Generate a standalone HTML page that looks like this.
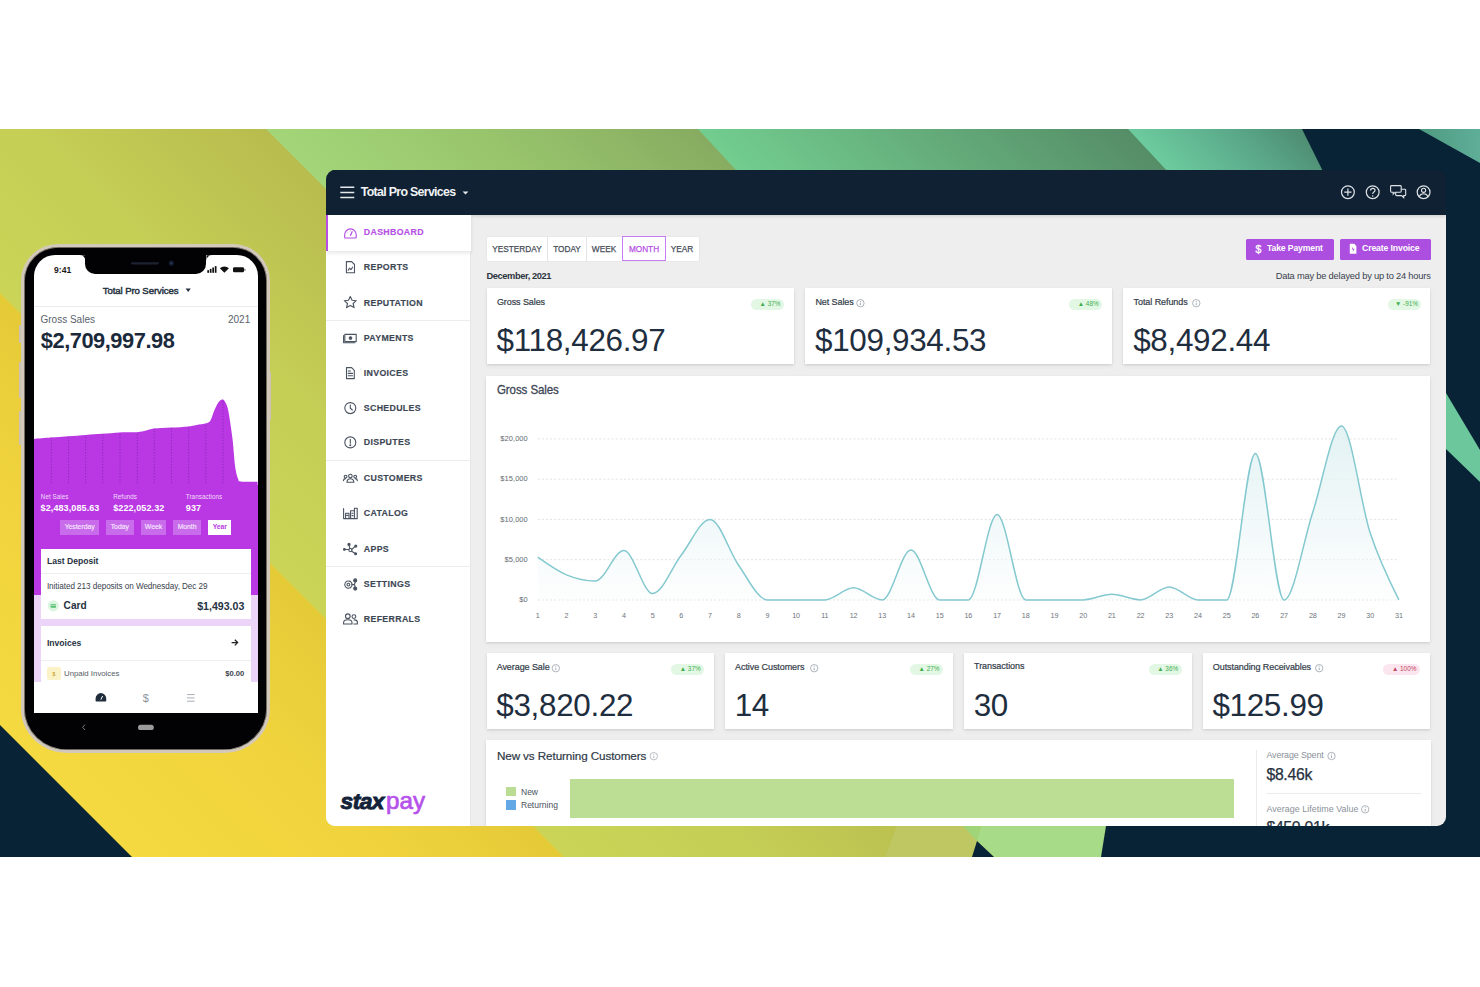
<!DOCTYPE html>
<html><head><meta charset="utf-8"><title>Stax Pay dashboard</title>
<style>
*{margin:0;padding:0;box-sizing:border-box}
html,body{width:1480px;height:987px;overflow:hidden;background:#fff}
body{position:relative;font-family:"Liberation Sans", Arial, sans-serif;-webkit-font-smoothing:antialiased}
.abs,.b,.t{position:absolute}
.t{white-space:nowrap}
svg{overflow:visible}
#dash{position:absolute;left:0;top:0;width:1480px;height:987px;clip-path:inset(169.5px 34px 161px 326px round 10px 10px 9px 9px);
box-shadow:none}
#phone{position:absolute;left:0;top:0;width:1480px;height:987px}
</style></head>
<body>
<svg class="abs" style="left:0;top:0" width="1480" height="987" viewBox="0 0 1480 987">
<defs>
<linearGradient id="gOl" x1="0" y1="294" x2="215.5" y2="78.5" gradientUnits="userSpaceOnUse">
<stop offset="0" stop-color="#cad557"/><stop offset="0.45" stop-color="#c5ce55"/><stop offset="1" stop-color="#b8bc4e"/></linearGradient>
<linearGradient id="gYe" x1="0" y1="294" x2="-215.5" y2="509.5" gradientUnits="userSpaceOnUse">
<stop offset="0" stop-color="#e5ca38"/><stop offset="0.45" stop-color="#f1d43d"/><stop offset="1" stop-color="#f5d940"/></linearGradient>
<linearGradient id="gLg" x1="68.5" y1="-68.5" x2="284.5" y2="-284.5" gradientUnits="userSpaceOnUse">
<stop offset="0" stop-color="#a3d678"/><stop offset="0.5" stop-color="#98c46c"/><stop offset="1" stop-color="#87ac61"/></linearGradient>
<linearGradient id="gTg" x1="284.5" y1="-284.5" x2="499.5" y2="-499.5" gradientUnits="userSpaceOnUse">
<stop offset="0" stop-color="#72cd8f"/><stop offset="0.5" stop-color="#65ad7b"/><stop offset="1" stop-color="#558d67"/></linearGradient>
<linearGradient id="gTl" x1="499.5" y1="-499.5" x2="586.5" y2="-586.5" gradientUnits="userSpaceOnUse">
<stop offset="0" stop-color="#6ccb9e"/><stop offset="0.6" stop-color="#5aa889"/><stop offset="1" stop-color="#4e8c72"/></linearGradient>
<linearGradient id="gTr" x1="1419" y1="0" x2="1480" y2="0" gradientUnits="userSpaceOnUse">
<stop offset="0" stop-color="#4e9a80"/><stop offset="1" stop-color="#5fae98"/></linearGradient>
</defs>
<rect x="0" y="129" width="1480" height="728" fill="#082236"/>
<polygon points="0,129 292,129 1020,857 0,857" fill="url(#gOl)"/>
<polygon points="907,800 937,800 994,857 885,857" fill="#bfc763"/>
<polygon points="0,293 564,857 0,857" fill="url(#gYe)"/>
<polygon points="0,725 132,857 0,857" fill="#082236"/>
<polygon points="266,129 720,129 804,220 357,220" fill="url(#gLg)"/>
<polygon points="698,129 1150,129 1235,220 782,220" fill="url(#gTg)"/>
<polygon points="1128,129 1302,129 1347,220 1213,220" fill="url(#gTl)"/>
<polygon points="1419,129 1480,129 1480,163" fill="url(#gTr)"/>
<polygon points="1440,383 1446,393 1480,450 1480,482 1446,449 1440,443" fill="#6cc79c"/>
<polygon points="963,826 981,826 977,841" fill="#a0d478"/>
<polygon points="981,826 1106,826 1101,857 994,857 977,841" fill="#a8db87"/>
<polygon points="977,841 994,857 972,857" fill="#082236"/>
</svg>
<div id="phone">
<div class="b" style="left:20.80px;top:243.80px;width:249.10px;height:509.00px;background:#020204;border:3.2px solid #d3c9bb;box-sizing:border-box;border-radius:37px 37px 46px 46px/37px 37px 44px 44px;box-shadow:inset 0 0 0 0.8px #8f877c;"></div>
<div class="b" style="left:19.40px;top:325.00px;width:1.80px;height:18.00px;background:#cbc2b3;border-radius:1px 0 0 1px;"></div>
<div class="b" style="left:19.40px;top:362.00px;width:1.80px;height:35.60px;background:#cbc2b3;border-radius:1px 0 0 1px;"></div>
<div class="b" style="left:19.40px;top:410.80px;width:1.80px;height:34.20px;background:#cbc2b3;border-radius:1px 0 0 1px;"></div>
<div class="b" style="left:269.60px;top:372.00px;width:1.60px;height:48.00px;background:#cbc2b3;border-radius:0 1px 1px 0;"></div>
<div class="abs" style="left:33.6px;top:255.3px;width:224px;height:457.3px;background:#fff;border-radius:21px 21px 0 0;overflow:hidden">
<div class="abs" style="left:-33.6px;top:-255.3px;width:1480px;height:987px">
<svg class="abs" style="left:0;top:0" width="1480" height="987"><defs><clipPath id="pcl"><path d="M33.6,600 L33.60,439.00C36.50,438.77 45.27,438.07 51.00,437.60C56.73,437.13 62.17,436.65 68.00,436.20C73.83,435.75 80.33,435.30 86.00,434.90C91.67,434.50 96.33,434.22 102.00,433.80C107.67,433.38 114.17,432.67 120.00,432.40C125.83,432.13 132.67,432.50 137.00,432.20C141.33,431.90 143.17,431.20 146.00,430.60C148.83,430.00 149.83,429.10 154.00,428.60C158.17,428.10 165.23,427.97 171.00,427.60C176.77,427.23 183.93,426.90 188.60,426.40C193.27,425.90 195.70,425.27 199.00,424.60C202.30,423.93 206.33,423.43 208.40,422.40C210.47,421.37 210.40,420.42 211.40,418.40C212.40,416.38 213.22,413.00 214.40,410.30C215.58,407.60 217.07,403.98 218.50,402.20C219.93,400.42 221.57,398.93 223.00,399.60C224.43,400.27 226.00,403.07 227.10,406.20C228.20,409.33 228.67,412.67 229.60,418.40C230.53,424.13 231.77,432.50 232.70,440.60C233.63,448.70 234.28,460.58 235.20,467.00C236.12,473.42 237.27,476.67 238.20,479.10C239.13,481.53 237.57,481.15 240.80,481.60C244.03,482.05 254.80,481.77 257.60,481.80 L257.6,600 Z"/></clipPath></defs><path d="M33.6,600 L33.60,439.00C36.50,438.77 45.27,438.07 51.00,437.60C56.73,437.13 62.17,436.65 68.00,436.20C73.83,435.75 80.33,435.30 86.00,434.90C91.67,434.50 96.33,434.22 102.00,433.80C107.67,433.38 114.17,432.67 120.00,432.40C125.83,432.13 132.67,432.50 137.00,432.20C141.33,431.90 143.17,431.20 146.00,430.60C148.83,430.00 149.83,429.10 154.00,428.60C158.17,428.10 165.23,427.97 171.00,427.60C176.77,427.23 183.93,426.90 188.60,426.40C193.27,425.90 195.70,425.27 199.00,424.60C202.30,423.93 206.33,423.43 208.40,422.40C210.47,421.37 210.40,420.42 211.40,418.40C212.40,416.38 213.22,413.00 214.40,410.30C215.58,407.60 217.07,403.98 218.50,402.20C219.93,400.42 221.57,398.93 223.00,399.60C224.43,400.27 226.00,403.07 227.10,406.20C228.20,409.33 228.67,412.67 229.60,418.40C230.53,424.13 231.77,432.50 232.70,440.60C233.63,448.70 234.28,460.58 235.20,467.00C236.12,473.42 237.27,476.67 238.20,479.10C239.13,481.53 237.57,481.15 240.80,481.60C244.03,482.05 254.80,481.77 257.60,481.80 L257.6,600 Z" fill="#b938e3"/><g clip-path="url(#pcl)">
<line x1="51.3" y1="395" x2="51.3" y2="484.7" stroke="#8f28b8" stroke-width="0.9" stroke-dasharray="1.4 1.6"/>
<line x1="68.5" y1="395" x2="68.5" y2="484.7" stroke="#8f28b8" stroke-width="0.9" stroke-dasharray="1.4 1.6"/>
<line x1="85.6" y1="395" x2="85.6" y2="484.7" stroke="#8f28b8" stroke-width="0.9" stroke-dasharray="1.4 1.6"/>
<line x1="102.8" y1="395" x2="102.8" y2="484.7" stroke="#8f28b8" stroke-width="0.9" stroke-dasharray="1.4 1.6"/>
<line x1="120.0" y1="395" x2="120.0" y2="484.7" stroke="#8f28b8" stroke-width="0.9" stroke-dasharray="1.4 1.6"/>
<line x1="137.2" y1="395" x2="137.2" y2="484.7" stroke="#8f28b8" stroke-width="0.9" stroke-dasharray="1.4 1.6"/>
<line x1="154.3" y1="395" x2="154.3" y2="484.7" stroke="#8f28b8" stroke-width="0.9" stroke-dasharray="1.4 1.6"/>
<line x1="171.5" y1="395" x2="171.5" y2="484.7" stroke="#8f28b8" stroke-width="0.9" stroke-dasharray="1.4 1.6"/>
<line x1="188.7" y1="395" x2="188.7" y2="484.7" stroke="#8f28b8" stroke-width="0.9" stroke-dasharray="1.4 1.6"/>
<line x1="205.8" y1="395" x2="205.8" y2="484.7" stroke="#8f28b8" stroke-width="0.9" stroke-dasharray="1.4 1.6"/>
<line x1="223.0" y1="395" x2="223.0" y2="484.7" stroke="#8f28b8" stroke-width="0.9" stroke-dasharray="1.4 1.6"/>
</g></svg>
<div class="b" style="left:33.60px;top:484.70px;width:224.00px;height:109.90px;background:#b938e3;"></div>
<div class="b" style="left:33.60px;top:594.60px;width:224.00px;height:87.20px;background:#ecd4f8;"></div>
<div class="t" style="top:265.52px;font-size:8.6px;line-height:8.6px;color:#1a1a1a;font-weight:700;left:54.00px;">9:41</div>
<svg class="abs" style="left:0;top:0" width="1480" height="987"><rect x="207.3" y="270.2" width="1.7" height="2.6" fill="#111"/><rect x="209.8" y="268.9" width="1.7" height="3.9" fill="#111"/><rect x="212.3" y="267.5" width="1.7" height="5.3" fill="#111"/><rect x="214.8" y="266.1" width="1.7" height="6.7" fill="#111"/><path d="M224.4,272.8 L219.9,268.3 A6.4,6.4 0 0 1 228.9,268.3 Z" fill="#111"/><rect x="233" y="267.3" width="11" height="5" rx="1.3" fill="#111"/><rect x="244.4" y="268.8" width="1" height="2" fill="#555"/></svg>
<div class="b" style="left:85.30px;top:254.00px;width:121.20px;height:19.80px;background:#020204;border-radius:0 0 10px 10px;"></div>
<svg class="abs" style="left:0;top:0" width="1480" height="987"><path d="M79.5,255.3 Q85.3,255.3 85.3,261 L85.3,255.3 Z" fill="#020204"/><path d="M212.3,255.3 Q206.5,255.3 206.5,261 L206.5,255.3 Z" fill="#020204"/><rect x="131" y="262.2" width="28" height="2.2" rx="1.1" fill="#1c2230"/><circle cx="171.3" cy="263.2" r="2.6" fill="#121a2c"/><circle cx="171.3" cy="263.2" r="1.1" fill="#26365a"/></svg>
<div class="t" style="top:285.57px;font-size:9.6px;line-height:9.6px;color:#26323f;font-weight:400;letter-spacing:-0.1px;-webkit-text-stroke:0.45px #26323f;left:140.60px;transform:translateX(-50%);">Total Pro Services</div>
<svg class="abs" style="left:0;top:0" width="1480" height="987"><path d="M185.6,288.6 L190.8,288.6 L188.2,292 Z" fill="#26323f"/></svg>
<div class="b" style="left:33.60px;top:305.80px;width:224.00px;height:1.00px;background:#e9ebee;"></div>
<div class="t" style="top:315.24px;font-size:10.0px;line-height:10.0px;color:#59616b;font-weight:400;left:40.50px;">Gross Sales</div>
<div class="t" style="top:315.24px;font-size:10.0px;line-height:10.0px;color:#59616b;font-weight:400;right:1229.80px;">2021</div>
<div class="t" style="top:329.85px;font-size:21.8px;line-height:21.8px;color:#1b2a3a;font-weight:700;letter-spacing:-0.45px;left:40.80px;">$2,709,997.98</div>
<div class="t" style="top:494.27px;font-size:6.3px;line-height:6.3px;color:#f1dcfb;font-weight:400;letter-spacing:0.05px;left:40.80px;">Net Sales</div>
<div class="t" style="top:494.27px;font-size:6.3px;line-height:6.3px;color:#f1dcfb;font-weight:400;letter-spacing:0.05px;left:113.20px;">Refunds</div>
<div class="t" style="top:494.27px;font-size:6.3px;line-height:6.3px;color:#f1dcfb;font-weight:400;letter-spacing:0.05px;left:185.80px;">Transactions</div>
<div class="t" style="top:503.98px;font-size:9.0px;line-height:9.0px;color:#fff;font-weight:700;letter-spacing:0.1px;left:40.60px;">$2,483,085.63</div>
<div class="t" style="top:503.98px;font-size:9.0px;line-height:9.0px;color:#fff;font-weight:700;letter-spacing:0.1px;left:113.20px;">$222,052.32</div>
<div class="t" style="top:503.98px;font-size:9.0px;line-height:9.0px;color:#fff;font-weight:700;letter-spacing:0.1px;left:185.80px;">937</div>
<div class="b" style="left:60.30px;top:519.80px;width:38.70px;height:14.80px;background:#c86ceb;"></div>
<div class="t" style="top:524.14px;font-size:6.8px;line-height:6.8px;color:#f6e6fd;font-weight:400;-webkit-text-stroke:0.15px #f6e6fd;left:79.65px;transform:translateX(-50%);">Yesterday</div>
<div class="b" style="left:106.00px;top:519.80px;width:27.60px;height:14.80px;background:#c86ceb;"></div>
<div class="t" style="top:524.14px;font-size:6.8px;line-height:6.8px;color:#f6e6fd;font-weight:400;-webkit-text-stroke:0.15px #f6e6fd;left:119.80px;transform:translateX(-50%);">Today</div>
<div class="b" style="left:141.00px;top:519.80px;width:25.00px;height:14.80px;background:#c86ceb;"></div>
<div class="t" style="top:524.14px;font-size:6.8px;line-height:6.8px;color:#f6e6fd;font-weight:400;-webkit-text-stroke:0.15px #f6e6fd;left:153.50px;transform:translateX(-50%);">Week</div>
<div class="b" style="left:173.00px;top:519.80px;width:28.20px;height:14.80px;background:#c86ceb;"></div>
<div class="t" style="top:524.14px;font-size:6.8px;line-height:6.8px;color:#f6e6fd;font-weight:400;-webkit-text-stroke:0.15px #f6e6fd;left:187.10px;transform:translateX(-50%);">Month</div>
<div class="b" style="left:208.30px;top:519.80px;width:23.10px;height:14.80px;background:#fff;"></div>
<div class="t" style="top:524.14px;font-size:6.8px;line-height:6.8px;color:#b938e3;font-weight:700;left:219.85px;transform:translateX(-50%);">Year</div>
<div class="b" style="left:40.60px;top:548.50px;width:210.30px;height:70.70px;background:#fff;"></div>
<div class="t" style="top:557.22px;font-size:8.6px;line-height:8.6px;color:#26323f;font-weight:700;left:46.90px;">Last Deposit</div>
<div class="b" style="left:40.60px;top:573.40px;width:210.30px;height:0.90px;background:#eceef0;"></div>
<div class="t" style="top:582.80px;font-size:8.15px;line-height:8.15px;color:#39424c;font-weight:400;letter-spacing:-0.05px;left:46.90px;">Initiated 213 deposits on Wednesday, Dec 29</div>
<svg class="abs" style="left:0;top:0" width="1480" height="987"><circle cx="53.3" cy="605.8" r="5.6" fill="#dcf5e0"/><rect x="50.6" y="603.9" width="5.4" height="3.8" rx="0.6" fill="#58c070"/><rect x="50.6" y="604.8" width="5.4" height="0.8" fill="#dcf5e0"/></svg>
<div class="t" style="top:601.05px;font-size:10.1px;line-height:10.1px;color:#26323f;font-weight:700;left:63.60px;">Card</div>
<div class="t" style="top:600.63px;font-size:10.6px;line-height:10.6px;color:#26323f;font-weight:700;right:1235.70px;">$1,493.03</div>
<div class="b" style="left:40.60px;top:625.80px;width:210.30px;height:56.00px;background:#fff;"></div>
<div class="t" style="top:638.62px;font-size:8.6px;line-height:8.6px;color:#26323f;font-weight:700;left:46.90px;">Invoices</div>
<svg class="abs" style="left:0;top:0" width="1480" height="987"><path d="M231.6,642.6 L237.4,642.6 M234.8,639.8 L237.6,642.6 L234.8,645.4" stroke="#222" stroke-width="1.3" fill="none"/></svg>
<div class="b" style="left:40.60px;top:659.60px;width:210.30px;height:0.90px;background:#eceef0;"></div>
<div class="b" style="left:47.30px;top:666.60px;width:13.40px;height:13.90px;background:#fbf2c8;border-radius:2px;"></div>
<div class="t" style="top:671.77px;font-size:5px;line-height:5px;color:#c8a030;font-weight:700;left:54.00px;transform:translateX(-50%);">$</div>
<div class="t" style="top:670.00px;font-size:7.8px;line-height:7.8px;color:#555d66;font-weight:400;left:64.00px;">Unpaid Invoices</div>
<div class="t" style="top:670.17px;font-size:7.6px;line-height:7.6px;color:#3a434c;font-weight:700;right:1235.70px;">$0.00</div>
<div class="b" style="left:33.60px;top:681.80px;width:224.00px;height:30.80px;background:#fff;"></div>
<svg class="abs" style="left:0;top:0" width="1480" height="987"><path d="M95.6,700.4 V698.4 A5.3,5.3 0 0 1 106.2,698.4 V700.4 Q106.2,701.6 105,701.6 H96.8 Q95.6,701.6 95.6,700.4 Z" fill="#1f2d3d"/><path d="M100.9,699.6 L102.6,696" stroke="#fff" stroke-width="1"/><path d="M187,694.6 H194.6 M187,697.9 H194.6 M187,701.2 H194.6" stroke="#a9aeb4" stroke-width="1"/></svg>
<div class="t" style="top:693.29px;font-size:11px;line-height:11px;color:#8c939b;font-weight:400;left:145.90px;transform:translateX(-50%);">$</div>
</div></div>
<svg class="abs" style="left:0;top:0" width="1480" height="987"><path d="M85,724.6 L82.6,727.3 L85,730" stroke="#8a8a8a" stroke-width="0.9" fill="none"/><rect x="138" y="724.8" width="15.8" height="5.2" rx="2.6" fill="#9a9a9a"/></svg>
</div>
<div id="dash">
<div class="b" style="left:326.00px;top:214.00px;width:1120.00px;height:612.00px;background:#eeeeee;"></div>
<div class="b" style="left:326.00px;top:169.50px;width:1120.00px;height:45.80px;background:#0f2133;box-shadow:0 1.5px 3px rgba(0,0,0,0.12);"></div>
<div class="b" style="left:326.00px;top:215.30px;width:145.00px;height:610.70px;background:#fff;"></div>
<div class="b" style="left:470.30px;top:215.30px;width:1.00px;height:610.70px;background:#e6e6e6;"></div>
<svg class="abs" style="left:0;top:0" width="1480" height="987"><path d="M340.3,187.3 H354.3 M340.3,192.4 H354.3 M340.3,197.4 H354.3" stroke="#e6e9ec" stroke-width="1.5"/><path d="M462.6,191.6 L468.4,191.6 L465.5,194.6 Z" fill="#e6e9ec"/><circle cx="1347.9" cy="192.2" r="6.4" stroke="#dfe3e7" stroke-width="1.2" fill="none"/><path d="M1347.9,188.6 V195.8 M1344.3,192.2 H1351.5" stroke="#dfe3e7" stroke-width="1.2"/><circle cx="1372.7" cy="192.2" r="6.4" stroke="#dfe3e7" stroke-width="1.2" fill="none"/><path d="M1370.5,190.6 Q1370.6,188.3 1372.8,188.3 Q1375,188.4 1375,190.4 Q1374.9,191.6 1373.6,192.3 Q1372.7,192.8 1372.7,194.1" stroke="#dfe3e7" stroke-width="1.15" fill="none"/><circle cx="1372.7" cy="195.9" r="0.75" fill="#dfe3e7"/><path d="M1391.5,185.6 H1400.3 Q1401.2,185.6 1401.2,186.5 V191.3 Q1401.2,192.2 1400.3,192.2 H1395.2 L1393.2,194.2 V192.2 H1391.5 Q1390.6,192.2 1390.6,191.3 V186.5 Q1390.6,185.6 1391.5,185.6 Z" stroke="#dfe3e7" stroke-width="1.1" fill="none"/><path d="M1401.2,189.2 H1404.8 Q1405.7,189.2 1405.7,190.1 V194.7 Q1405.7,195.6 1404.8,195.6 H1403.7 V197.6 L1401.7,195.6 H1396.6 Q1395.7,195.6 1395.7,194.7 V192.2" stroke="#dfe3e7" stroke-width="1.1" fill="none"/><circle cx="1423.6" cy="192.2" r="6.4" stroke="#dfe3e7" stroke-width="1.2" fill="none"/><circle cx="1423.6" cy="190.3" r="2.1" stroke="#dfe3e7" stroke-width="1.1" fill="none"/><path d="M1419.2,196.8 Q1420.2,193.8 1423.6,193.8 Q1427,193.8 1428,196.8" stroke="#dfe3e7" stroke-width="1.1" fill="none"/></svg>
<div class="t" style="top:185.70px;font-size:12.4px;line-height:12.4px;color:#f1f3f5;font-weight:700;letter-spacing:-0.7px;left:360.80px;">Total Pro Services</div>
<div class="b" style="left:326.00px;top:215.30px;width:145.00px;height:35.90px;background:#fff;box-shadow:0 2px 4px rgba(0,0,0,0.10);"></div>
<div class="b" style="left:326.00px;top:215.30px;width:2.20px;height:35.90px;background:#b64fe6;"></div>
<div class="b" style="left:326.00px;top:320.10px;width:144.30px;height:1.10px;background:#ededed;"></div>
<div class="b" style="left:326.00px;top:459.80px;width:144.30px;height:1.10px;background:#ededed;"></div>
<div class="b" style="left:326.00px;top:566.30px;width:144.30px;height:1.10px;background:#ededed;"></div>
<div class="t" style="top:228.40px;font-size:8.8px;line-height:8.8px;color:#b64fe6;font-weight:700;letter-spacing:0.32px;-webkit-text-stroke:0.15px #b64fe6;left:363.80px;">DASHBOARD</div>
<div class="t" style="top:263.10px;font-size:8.8px;line-height:8.8px;color:#3d4754;font-weight:700;letter-spacing:0.32px;-webkit-text-stroke:0.15px #3d4754;left:363.80px;">REPORTS</div>
<div class="t" style="top:298.50px;font-size:8.8px;line-height:8.8px;color:#3d4754;font-weight:700;letter-spacing:0.32px;-webkit-text-stroke:0.15px #3d4754;left:363.80px;">REPUTATION</div>
<div class="t" style="top:333.70px;font-size:8.8px;line-height:8.8px;color:#3d4754;font-weight:700;letter-spacing:0.32px;-webkit-text-stroke:0.15px #3d4754;left:363.80px;">PAYMENTS</div>
<div class="t" style="top:368.80px;font-size:8.8px;line-height:8.8px;color:#3d4754;font-weight:700;letter-spacing:0.32px;-webkit-text-stroke:0.15px #3d4754;left:363.80px;">INVOICES</div>
<div class="t" style="top:403.70px;font-size:8.8px;line-height:8.8px;color:#3d4754;font-weight:700;letter-spacing:0.32px;-webkit-text-stroke:0.15px #3d4754;left:363.80px;">SCHEDULES</div>
<div class="t" style="top:438.00px;font-size:8.8px;line-height:8.8px;color:#3d4754;font-weight:700;letter-spacing:0.32px;-webkit-text-stroke:0.15px #3d4754;left:363.80px;">DISPUTES</div>
<div class="t" style="top:474.40px;font-size:8.8px;line-height:8.8px;color:#3d4754;font-weight:700;letter-spacing:0.32px;-webkit-text-stroke:0.15px #3d4754;left:363.80px;">CUSTOMERS</div>
<div class="t" style="top:509.30px;font-size:8.8px;line-height:8.8px;color:#3d4754;font-weight:700;letter-spacing:0.32px;-webkit-text-stroke:0.15px #3d4754;left:363.80px;">CATALOG</div>
<div class="t" style="top:544.80px;font-size:8.8px;line-height:8.8px;color:#3d4754;font-weight:700;letter-spacing:0.32px;-webkit-text-stroke:0.15px #3d4754;left:363.80px;">APPS</div>
<div class="t" style="top:580.00px;font-size:8.8px;line-height:8.8px;color:#3d4754;font-weight:700;letter-spacing:0.32px;-webkit-text-stroke:0.15px #3d4754;left:363.80px;">SETTINGS</div>
<div class="t" style="top:615.00px;font-size:8.8px;line-height:8.8px;color:#3d4754;font-weight:700;letter-spacing:0.32px;-webkit-text-stroke:0.15px #3d4754;left:363.80px;">REFERRALS</div>
<svg class="abs" style="left:0;top:0" width="1480" height="987" fill="none" stroke-linecap="round" stroke-linejoin="round"><g stroke="#b64fe6" stroke-width="1.15"><path d="M344.7,237.5 V234.6 A5.75,5.75 0 0 1 356.2,234.6 V237.5 Q356.2,238 355.7,238 H345.2 Q344.7,238 344.7,237.5 Z"/><path d="M350.6,235.3 L352.1,231.8" stroke-width="1.3"/><path d="M347,232.2 L347.6,232.8 M350.4,230.9 V231.5" stroke-width="0.7" opacity="0.6"/></g><g stroke="#4a5360" stroke-width="1.1"><path d="M346.4,261.6 H351.6 L354.5,264.5 V272.8 H346.4 Z"/><path d="M348.2,270.3 L349.5,268.2 L350.9,269.6 L352.6,267.2"/><path d="M350.3,296.4 L352.1,300.3 L356.3,300.7 L353.1,303.5 L354.1,307.6 L350.3,305.4 L346.5,307.6 L347.5,303.5 L344.3,300.7 L348.5,300.3 Z"/><path d="M344.8,334.4 H356.2 V341.6 H344.8 Z"/><path d="M343.6,335.6 V342.8 H354.8"/><circle cx="350.5" cy="338" r="1.3" fill="#4a5360"/><path d="M346.5,367.6 H351.6 L354.3,370.3 V378.6 H346.5 Z"/><path d="M348.2,371 H350.5 M348.2,373.4 H352.5 M348.2,375.8 H352.5"/><circle cx="350.3" cy="408.1" r="5.5"/><path d="M350.3,405 V408.3 L352.4,410"/><circle cx="350.3" cy="442.4" r="5.5"/><path d="M350.3,439.4 V443.2"/><circle cx="350.3" cy="445.3" r="0.45" fill="#4a5360"/><circle cx="350.4" cy="476.1" r="1.8"/><path d="M346.9,482.2 Q347.2,478.8 350.4,478.8 Q353.6,478.8 353.9,482.2 Z"/><circle cx="345.6" cy="476.6" r="1.4"/><circle cx="355.2" cy="476.6" r="1.4"/><path d="M343.4,480.6 Q343.6,478.6 345.6,478.6 M357.4,480.6 Q357.2,478.6 355.2,478.6"/><path d="M343.6,518.6 V508.6 M343.6,518.6 H357.2 M345.6,518.6 V513.2 H349 V518.6 M350.6,518.6 V510.8 H354.4 V518.6 M354.4,510.8 V508.2 H357.2 V518.6 M346.8,515.4 H347.8 M352,513.2 H353 M352,515.6 H353"/><circle cx="344.4" cy="549.4" r="0.9" fill="#4a5360"/><circle cx="349" cy="544.4" r="1.1" fill="#4a5360"/><circle cx="350.4" cy="550.1" r="1.6"/><circle cx="355.8" cy="546.1" r="1.0" fill="#4a5360"/><circle cx="355.6" cy="553.8" r="1.0" fill="#4a5360"/><path d="M345.3,549.5 H348.8 M349.2,545.5 L349.9,548.5 M351.8,549.2 L355,546.6 M351.7,551.2 L354.8,553.3"/><circle cx="348.4" cy="584.6" r="3.6" stroke-dasharray="1.6 0.9"/><circle cx="348.4" cy="584.6" r="1.4"/><circle cx="355.2" cy="580.4" r="1.5" fill="#4a5360"/><circle cx="355.2" cy="588.6" r="1.5" fill="#4a5360"/><path d="M352,584.6 H354.4 L355.2,582 M354.4,584.6 L355.2,587"/><circle cx="347.8" cy="616.2" r="2.3"/><path d="M343.6,624 V622.6 Q343.6,619.8 347.8,619.8 Q352,619.8 352,622.6 V624 Z"/><circle cx="353.9" cy="616.6" r="1.9"/><path d="M354.2,619.9 Q357.4,620 357.4,622.6 V624 H353.8"/></g></svg>
<div class="t" style="top:790.10px;font-size:22.8px;line-height:22.8px;color:#13233a;font-weight:700;letter-spacing:-0.6px;left:340.60px;font-style:italic;-webkit-text-stroke:0.9px #13233a;">stax</div>
<div class="t" style="top:788.91px;font-size:24.2px;line-height:24.2px;color:#b652ea;font-weight:400;letter-spacing:0.1px;left:386.00px;-webkit-text-stroke:0.7px #b652ea;">pay</div>
<div class="b" style="left:486.50px;top:236.70px;width:212.30px;height:24.30px;background:#fff;border-radius:1px;box-shadow:0 0 0 0.5px #e2e2e2;"></div>
<div class="b" style="left:547.00px;top:236.70px;width:1.00px;height:24.30px;background:#e4e4e4;"></div>
<div class="b" style="left:585.90px;top:236.70px;width:1.00px;height:24.30px;background:#e4e4e4;"></div>
<div class="b" style="left:621.80px;top:236.20px;width:44.10px;height:25.20px;border:1px solid #c77cf0;box-sizing:border-box;"></div>
<div class="t" style="top:243.57px;font-size:9.6px;line-height:9.6px;color:#454c55;font-weight:400;-webkit-text-stroke:0.25px #454c55;left:517.10px;transform:translateX(-50%) scaleX(0.86);">YESTERDAY</div>
<div class="t" style="top:243.57px;font-size:9.6px;line-height:9.6px;color:#454c55;font-weight:400;-webkit-text-stroke:0.25px #454c55;left:567.10px;transform:translateX(-50%) scaleX(0.86);">TODAY</div>
<div class="t" style="top:243.57px;font-size:9.6px;line-height:9.6px;color:#454c55;font-weight:400;-webkit-text-stroke:0.25px #454c55;left:604.20px;transform:translateX(-50%) scaleX(0.86);">WEEK</div>
<div class="t" style="top:243.57px;font-size:9.6px;line-height:9.6px;color:#b64fe6;font-weight:400;-webkit-text-stroke:0.25px #b64fe6;left:643.70px;transform:translateX(-50%) scaleX(0.86);">MONTH</div>
<div class="t" style="top:243.57px;font-size:9.6px;line-height:9.6px;color:#454c55;font-weight:400;-webkit-text-stroke:0.25px #454c55;left:682.10px;transform:translateX(-50%) scaleX(0.86);">YEAR</div>
<div class="t" style="top:272.23px;font-size:9.3px;line-height:9.3px;color:#2b3440;font-weight:700;letter-spacing:-0.4px;left:486.40px;">December, 2021</div>
<div class="b" style="left:1245.60px;top:238.50px;width:88.70px;height:21.30px;background:#ac4ee0;border-radius:1.5px;"></div>
<div class="b" style="left:1340.00px;top:238.50px;width:90.80px;height:21.30px;background:#ac4ee0;border-radius:1.5px;"></div>
<div class="t" style="top:243.71px;font-size:10.5px;line-height:10.5px;color:#fff;font-weight:400;-webkit-text-stroke:0.3px #fff;left:1258.50px;transform:translateX(-50%);">$</div>
<div class="t" style="top:244.33px;font-size:9.3px;line-height:9.3px;color:#fff;font-weight:700;letter-spacing:-0.15px;left:1267.20px;transform:scaleX(0.93);transform-origin:0 0;">Take Payment</div>
<svg class="abs" style="left:0;top:0" width="1480" height="987"><path d="M1349.8,243.8 H1354.3 L1356.4,245.9 V253.8 H1349.8 Z" fill="#fff"/><path d="M1353.1,246.6 L1351.6,249.6 H1353.4 L1352.6,252.2 L1354.6,248.7 H1352.8 Z" fill="#ac4ee0"/></svg>
<div class="t" style="top:244.33px;font-size:9.3px;line-height:9.3px;color:#fff;font-weight:700;letter-spacing:-0.15px;left:1362.20px;transform:scaleX(0.935);transform-origin:0 0;">Create Invoice</div>
<div class="t" style="top:272.23px;font-size:9.3px;line-height:9.3px;color:#39424d;font-weight:400;letter-spacing:-0.2px;right:49.40px;">Data may be delayed by up to 24 hours</div>
<div class="b" style="left:486.70px;top:288.00px;width:307.30px;height:76.30px;background:#fff;box-shadow:0 1px 2px rgba(0,0,0,0.10),0 2px 5px rgba(0,0,0,0.05);"></div><div class="t" style="top:298.18px;font-size:9.0px;line-height:9.0px;color:#333c48;font-weight:400;letter-spacing:-0.08px;-webkit-text-stroke:0.2px #333c48;left:496.90px;">Gross Sales</div><div class="b" style="left:751.00px;top:298.50px;width:33.00px;height:11.80px;background:#e3f7e5;border-radius:6px;"></div><div class="t" style="top:301.18px;font-size:6.4px;line-height:6.4px;color:#3fae4e;font-weight:400;left:770.00px;transform:translateX(-50%);">&#9650; 37%</div><div class="t" style="top:325.32px;font-size:31.4px;line-height:31.4px;color:#1f2e3e;font-weight:400;letter-spacing:-0.3px;left:496.50px;">$118,426.97</div>
<div class="b" style="left:805.20px;top:288.00px;width:307.00px;height:76.30px;background:#fff;box-shadow:0 1px 2px rgba(0,0,0,0.10),0 2px 5px rgba(0,0,0,0.05);"></div><div class="t" style="top:298.18px;font-size:9.0px;line-height:9.0px;color:#333c48;font-weight:400;letter-spacing:-0.08px;-webkit-text-stroke:0.2px #333c48;left:815.40px;">Net Sales</div><svg class="abs" style="left:0;top:0" width="1480" height="987"><circle cx="860.4" cy="303.2" r="3.7" stroke="#9aa1a9" stroke-width="0.8" fill="none"/><path d="M860.4,302.8 V305.2" stroke="#9aa1a9" stroke-width="0.9"/><circle cx="860.4" cy="301.3" r="0.5" fill="#9aa1a9"/></svg><div class="b" style="left:1069.20px;top:298.50px;width:33.00px;height:11.80px;background:#e3f7e5;border-radius:6px;"></div><div class="t" style="top:301.18px;font-size:6.4px;line-height:6.4px;color:#3fae4e;font-weight:400;left:1088.20px;transform:translateX(-50%);">&#9650; 48%</div><div class="t" style="top:325.32px;font-size:31.4px;line-height:31.4px;color:#1f2e3e;font-weight:400;letter-spacing:-0.3px;left:815.00px;">$109,934.53</div>
<div class="b" style="left:1123.40px;top:288.00px;width:307.10px;height:76.30px;background:#fff;box-shadow:0 1px 2px rgba(0,0,0,0.10),0 2px 5px rgba(0,0,0,0.05);"></div><div class="t" style="top:298.18px;font-size:9.0px;line-height:9.0px;color:#333c48;font-weight:400;letter-spacing:-0.08px;-webkit-text-stroke:0.2px #333c48;left:1133.60px;">Total Refunds</div><svg class="abs" style="left:0;top:0" width="1480" height="987"><circle cx="1196.3" cy="303.2" r="3.7" stroke="#9aa1a9" stroke-width="0.8" fill="none"/><path d="M1196.3,302.8 V305.2" stroke="#9aa1a9" stroke-width="0.9"/><circle cx="1196.3" cy="301.3" r="0.5" fill="#9aa1a9"/></svg><div class="b" style="left:1387.50px;top:298.50px;width:33.00px;height:11.80px;background:#e3f7e5;border-radius:6px;"></div><div class="t" style="top:301.18px;font-size:6.4px;line-height:6.4px;color:#3fae4e;font-weight:400;left:1406.50px;transform:translateX(-50%);">&#9660; -91%</div><div class="t" style="top:325.32px;font-size:31.4px;line-height:31.4px;color:#1f2e3e;font-weight:400;letter-spacing:-0.3px;left:1133.20px;">$8,492.44</div>
<div class="b" style="left:486.40px;top:376.00px;width:944.00px;height:265.70px;background:#fff;box-shadow:0 1px 2px rgba(0,0,0,0.10),0 2px 5px rgba(0,0,0,0.05);"></div>
<div class="t" style="top:384.30px;font-size:12.4px;line-height:12.4px;color:#3c4655;font-weight:400;letter-spacing:-0.1px;-webkit-text-stroke:0.3px #3c4655;left:496.80px;transform:scaleX(0.93);transform-origin:0 0;">Gross Sales</div>
<svg class="abs" style="left:0;top:0" width="1480" height="987"><defs><linearGradient id="gCh" x1="0" y1="420" x2="0" y2="600" gradientUnits="userSpaceOnUse"><stop offset="0" stop-color="#dceff1" stop-opacity="0.85"/><stop offset="0.7" stop-color="#eef7f8" stop-opacity="0.6"/><stop offset="1" stop-color="#f7fbfb" stop-opacity="0.3"/></linearGradient></defs><line x1="537.8" y1="599.90" x2="1399" y2="599.90" stroke="#dadada" stroke-width="0.8" stroke-dasharray="2 2.1"/><line x1="537.8" y1="559.65" x2="1399" y2="559.65" stroke="#dadada" stroke-width="0.8" stroke-dasharray="2 2.1"/><line x1="537.8" y1="519.40" x2="1399" y2="519.40" stroke="#dadada" stroke-width="0.8" stroke-dasharray="2 2.1"/><line x1="537.8" y1="479.15" x2="1399" y2="479.15" stroke="#dadada" stroke-width="0.8" stroke-dasharray="2 2.1"/><line x1="537.8" y1="438.90" x2="1399" y2="438.90" stroke="#dadada" stroke-width="0.8" stroke-dasharray="2 2.1"/><path d="M537.80,557.15C547.37,564.02 556.94,570.88 566.50,574.86C576.07,578.85 585.64,581.06 595.21,581.06C604.77,581.06 614.34,550.55 623.91,550.55C633.48,550.55 643.05,593.54 652.61,593.54C662.18,593.54 671.75,567.42 681.32,555.06C690.88,542.70 700.45,519.40 710.02,519.40C719.59,519.40 729.16,552.03 738.72,565.45C748.29,578.86 757.86,599.90 767.43,599.90C776.99,599.90 786.56,599.90 796.13,599.90C805.70,599.90 815.27,599.90 824.83,599.90C834.40,599.90 843.97,587.82 853.54,587.82C863.10,587.82 872.67,599.90 882.24,599.90C891.81,599.90 901.38,549.99 910.94,549.99C920.51,549.99 930.08,599.90 939.65,599.90C949.21,599.90 958.78,599.90 968.35,599.90C977.92,599.90 987.49,514.57 997.05,514.57C1006.62,514.57 1016.19,599.90 1025.76,599.90C1035.32,599.90 1044.89,599.90 1054.46,599.90C1064.03,599.90 1073.60,599.90 1083.16,599.90C1092.73,599.90 1102.30,594.26 1111.87,594.26C1121.43,594.26 1131.00,599.90 1140.57,599.90C1150.14,599.90 1159.71,587.02 1169.27,587.02C1178.84,587.02 1188.41,599.90 1197.98,599.90C1207.54,599.90 1217.11,599.90 1226.68,599.90C1236.25,599.90 1245.82,453.39 1255.38,453.39C1264.95,453.39 1274.52,599.90 1284.09,599.90C1293.65,599.90 1303.22,541.13 1312.79,512.15C1322.36,483.17 1331.93,426.02 1341.49,426.02C1351.06,426.02 1360.63,504.11 1370.20,533.09C1379.76,562.07 1389.33,580.98 1398.90,599.90 L1398.90,599.9 L537.80,599.9 Z" fill="url(#gCh)"/><path d="M537.80,557.15C547.37,564.02 556.94,570.88 566.50,574.86C576.07,578.85 585.64,581.06 595.21,581.06C604.77,581.06 614.34,550.55 623.91,550.55C633.48,550.55 643.05,593.54 652.61,593.54C662.18,593.54 671.75,567.42 681.32,555.06C690.88,542.70 700.45,519.40 710.02,519.40C719.59,519.40 729.16,552.03 738.72,565.45C748.29,578.86 757.86,599.90 767.43,599.90C776.99,599.90 786.56,599.90 796.13,599.90C805.70,599.90 815.27,599.90 824.83,599.90C834.40,599.90 843.97,587.82 853.54,587.82C863.10,587.82 872.67,599.90 882.24,599.90C891.81,599.90 901.38,549.99 910.94,549.99C920.51,549.99 930.08,599.90 939.65,599.90C949.21,599.90 958.78,599.90 968.35,599.90C977.92,599.90 987.49,514.57 997.05,514.57C1006.62,514.57 1016.19,599.90 1025.76,599.90C1035.32,599.90 1044.89,599.90 1054.46,599.90C1064.03,599.90 1073.60,599.90 1083.16,599.90C1092.73,599.90 1102.30,594.26 1111.87,594.26C1121.43,594.26 1131.00,599.90 1140.57,599.90C1150.14,599.90 1159.71,587.02 1169.27,587.02C1178.84,587.02 1188.41,599.90 1197.98,599.90C1207.54,599.90 1217.11,599.90 1226.68,599.90C1236.25,599.90 1245.82,453.39 1255.38,453.39C1264.95,453.39 1274.52,599.90 1284.09,599.90C1293.65,599.90 1303.22,541.13 1312.79,512.15C1322.36,483.17 1331.93,426.02 1341.49,426.02C1351.06,426.02 1360.63,504.11 1370.20,533.09C1379.76,562.07 1389.33,580.98 1398.90,599.90" stroke="#84c9cf" stroke-width="1.5" fill="none"/></svg>
<div class="t" style="top:596.15px;font-size:7.5px;line-height:7.5px;color:#63696f;font-weight:400;letter-spacing:0.05px;right:952.20px;">$0</div>
<div class="t" style="top:555.90px;font-size:7.5px;line-height:7.5px;color:#63696f;font-weight:400;letter-spacing:0.05px;right:952.20px;">$5,000</div>
<div class="t" style="top:515.65px;font-size:7.5px;line-height:7.5px;color:#63696f;font-weight:400;letter-spacing:0.05px;right:952.20px;">$10,000</div>
<div class="t" style="top:475.40px;font-size:7.5px;line-height:7.5px;color:#63696f;font-weight:400;letter-spacing:0.05px;right:952.20px;">$15,000</div>
<div class="t" style="top:435.15px;font-size:7.5px;line-height:7.5px;color:#63696f;font-weight:400;letter-spacing:0.05px;right:952.20px;">$20,000</div>
<div class="t" style="top:612.21px;font-size:7.2px;line-height:7.2px;color:#6e747b;font-weight:400;letter-spacing:-0.1px;left:537.80px;transform:translateX(-50%);">1</div>
<div class="t" style="top:612.21px;font-size:7.2px;line-height:7.2px;color:#6e747b;font-weight:400;letter-spacing:-0.1px;left:566.50px;transform:translateX(-50%);">2</div>
<div class="t" style="top:612.21px;font-size:7.2px;line-height:7.2px;color:#6e747b;font-weight:400;letter-spacing:-0.1px;left:595.21px;transform:translateX(-50%);">3</div>
<div class="t" style="top:612.21px;font-size:7.2px;line-height:7.2px;color:#6e747b;font-weight:400;letter-spacing:-0.1px;left:623.91px;transform:translateX(-50%);">4</div>
<div class="t" style="top:612.21px;font-size:7.2px;line-height:7.2px;color:#6e747b;font-weight:400;letter-spacing:-0.1px;left:652.61px;transform:translateX(-50%);">5</div>
<div class="t" style="top:612.21px;font-size:7.2px;line-height:7.2px;color:#6e747b;font-weight:400;letter-spacing:-0.1px;left:681.32px;transform:translateX(-50%);">6</div>
<div class="t" style="top:612.21px;font-size:7.2px;line-height:7.2px;color:#6e747b;font-weight:400;letter-spacing:-0.1px;left:710.02px;transform:translateX(-50%);">7</div>
<div class="t" style="top:612.21px;font-size:7.2px;line-height:7.2px;color:#6e747b;font-weight:400;letter-spacing:-0.1px;left:738.72px;transform:translateX(-50%);">8</div>
<div class="t" style="top:612.21px;font-size:7.2px;line-height:7.2px;color:#6e747b;font-weight:400;letter-spacing:-0.1px;left:767.43px;transform:translateX(-50%);">9</div>
<div class="t" style="top:612.21px;font-size:7.2px;line-height:7.2px;color:#6e747b;font-weight:400;letter-spacing:-0.1px;left:796.13px;transform:translateX(-50%);">10</div>
<div class="t" style="top:612.21px;font-size:7.2px;line-height:7.2px;color:#6e747b;font-weight:400;letter-spacing:-0.1px;left:824.83px;transform:translateX(-50%);">11</div>
<div class="t" style="top:612.21px;font-size:7.2px;line-height:7.2px;color:#6e747b;font-weight:400;letter-spacing:-0.1px;left:853.54px;transform:translateX(-50%);">12</div>
<div class="t" style="top:612.21px;font-size:7.2px;line-height:7.2px;color:#6e747b;font-weight:400;letter-spacing:-0.1px;left:882.24px;transform:translateX(-50%);">13</div>
<div class="t" style="top:612.21px;font-size:7.2px;line-height:7.2px;color:#6e747b;font-weight:400;letter-spacing:-0.1px;left:910.94px;transform:translateX(-50%);">14</div>
<div class="t" style="top:612.21px;font-size:7.2px;line-height:7.2px;color:#6e747b;font-weight:400;letter-spacing:-0.1px;left:939.65px;transform:translateX(-50%);">15</div>
<div class="t" style="top:612.21px;font-size:7.2px;line-height:7.2px;color:#6e747b;font-weight:400;letter-spacing:-0.1px;left:968.35px;transform:translateX(-50%);">16</div>
<div class="t" style="top:612.21px;font-size:7.2px;line-height:7.2px;color:#6e747b;font-weight:400;letter-spacing:-0.1px;left:997.05px;transform:translateX(-50%);">17</div>
<div class="t" style="top:612.21px;font-size:7.2px;line-height:7.2px;color:#6e747b;font-weight:400;letter-spacing:-0.1px;left:1025.76px;transform:translateX(-50%);">18</div>
<div class="t" style="top:612.21px;font-size:7.2px;line-height:7.2px;color:#6e747b;font-weight:400;letter-spacing:-0.1px;left:1054.46px;transform:translateX(-50%);">19</div>
<div class="t" style="top:612.21px;font-size:7.2px;line-height:7.2px;color:#6e747b;font-weight:400;letter-spacing:-0.1px;left:1083.16px;transform:translateX(-50%);">20</div>
<div class="t" style="top:612.21px;font-size:7.2px;line-height:7.2px;color:#6e747b;font-weight:400;letter-spacing:-0.1px;left:1111.87px;transform:translateX(-50%);">21</div>
<div class="t" style="top:612.21px;font-size:7.2px;line-height:7.2px;color:#6e747b;font-weight:400;letter-spacing:-0.1px;left:1140.57px;transform:translateX(-50%);">22</div>
<div class="t" style="top:612.21px;font-size:7.2px;line-height:7.2px;color:#6e747b;font-weight:400;letter-spacing:-0.1px;left:1169.27px;transform:translateX(-50%);">23</div>
<div class="t" style="top:612.21px;font-size:7.2px;line-height:7.2px;color:#6e747b;font-weight:400;letter-spacing:-0.1px;left:1197.98px;transform:translateX(-50%);">24</div>
<div class="t" style="top:612.21px;font-size:7.2px;line-height:7.2px;color:#6e747b;font-weight:400;letter-spacing:-0.1px;left:1226.68px;transform:translateX(-50%);">25</div>
<div class="t" style="top:612.21px;font-size:7.2px;line-height:7.2px;color:#6e747b;font-weight:400;letter-spacing:-0.1px;left:1255.38px;transform:translateX(-50%);">26</div>
<div class="t" style="top:612.21px;font-size:7.2px;line-height:7.2px;color:#6e747b;font-weight:400;letter-spacing:-0.1px;left:1284.09px;transform:translateX(-50%);">27</div>
<div class="t" style="top:612.21px;font-size:7.2px;line-height:7.2px;color:#6e747b;font-weight:400;letter-spacing:-0.1px;left:1312.79px;transform:translateX(-50%);">28</div>
<div class="t" style="top:612.21px;font-size:7.2px;line-height:7.2px;color:#6e747b;font-weight:400;letter-spacing:-0.1px;left:1341.49px;transform:translateX(-50%);">29</div>
<div class="t" style="top:612.21px;font-size:7.2px;line-height:7.2px;color:#6e747b;font-weight:400;letter-spacing:-0.1px;left:1370.20px;transform:translateX(-50%);">30</div>
<div class="t" style="top:612.21px;font-size:7.2px;line-height:7.2px;color:#6e747b;font-weight:400;letter-spacing:-0.1px;left:1398.90px;transform:translateX(-50%);">31</div>
<div class="b" style="left:486.50px;top:653.00px;width:227.70px;height:76.20px;background:#fff;box-shadow:0 1px 2px rgba(0,0,0,0.10),0 2px 5px rgba(0,0,0,0.05);"></div><div class="t" style="top:663.18px;font-size:9.0px;line-height:9.0px;color:#333c48;font-weight:400;letter-spacing:-0.08px;-webkit-text-stroke:0.2px #333c48;left:496.70px;">Average Sale</div><svg class="abs" style="left:0;top:0" width="1480" height="987"><circle cx="555.8" cy="668.2" r="3.7" stroke="#9aa1a9" stroke-width="0.8" fill="none"/><path d="M555.8,667.8000000000001 V670.2" stroke="#9aa1a9" stroke-width="0.9"/><circle cx="555.8" cy="666.3000000000001" r="0.5" fill="#9aa1a9"/></svg><div class="b" style="left:671.20px;top:663.50px;width:33.00px;height:11.80px;background:#e3f7e5;border-radius:6px;"></div><div class="t" style="top:666.18px;font-size:6.4px;line-height:6.4px;color:#3fae4e;font-weight:400;left:690.20px;transform:translateX(-50%);">&#9650; 37%</div><div class="t" style="top:690.32px;font-size:31.4px;line-height:31.4px;color:#1f2e3e;font-weight:400;letter-spacing:-0.3px;left:496.30px;">$3,820.22</div>
<div class="b" style="left:724.90px;top:653.00px;width:228.10px;height:76.20px;background:#fff;box-shadow:0 1px 2px rgba(0,0,0,0.10),0 2px 5px rgba(0,0,0,0.05);"></div><div class="t" style="top:663.18px;font-size:9.0px;line-height:9.0px;color:#333c48;font-weight:400;letter-spacing:-0.08px;-webkit-text-stroke:0.2px #333c48;left:735.10px;">Active Customers</div><svg class="abs" style="left:0;top:0" width="1480" height="987"><circle cx="814.2" cy="668.2" r="3.7" stroke="#9aa1a9" stroke-width="0.8" fill="none"/><path d="M814.2,667.8000000000001 V670.2" stroke="#9aa1a9" stroke-width="0.9"/><circle cx="814.2" cy="666.3000000000001" r="0.5" fill="#9aa1a9"/></svg><div class="b" style="left:910.00px;top:663.50px;width:33.00px;height:11.80px;background:#e3f7e5;border-radius:6px;"></div><div class="t" style="top:666.18px;font-size:6.4px;line-height:6.4px;color:#3fae4e;font-weight:400;left:929.00px;transform:translateX(-50%);">&#9650; 27%</div><div class="t" style="top:690.32px;font-size:31.4px;line-height:31.4px;color:#1f2e3e;font-weight:400;letter-spacing:-0.3px;left:734.70px;">14</div>
<div class="b" style="left:963.90px;top:653.00px;width:227.80px;height:76.20px;background:#fff;box-shadow:0 1px 2px rgba(0,0,0,0.10),0 2px 5px rgba(0,0,0,0.05);"></div><div class="t" style="top:661.98px;font-size:9.0px;line-height:9.0px;color:#333c48;font-weight:400;letter-spacing:-0.08px;-webkit-text-stroke:0.2px #333c48;left:974.10px;">Transactions</div><div class="b" style="left:1148.70px;top:663.50px;width:33.00px;height:11.80px;background:#e3f7e5;border-radius:6px;"></div><div class="t" style="top:666.18px;font-size:6.4px;line-height:6.4px;color:#3fae4e;font-weight:400;left:1167.70px;transform:translateX(-50%);">&#9650; 36%</div><div class="t" style="top:690.32px;font-size:31.4px;line-height:31.4px;color:#1f2e3e;font-weight:400;letter-spacing:-0.3px;left:973.70px;">30</div>
<div class="b" style="left:1202.60px;top:653.00px;width:227.60px;height:76.20px;background:#fff;box-shadow:0 1px 2px rgba(0,0,0,0.10),0 2px 5px rgba(0,0,0,0.05);"></div><div class="t" style="top:663.18px;font-size:9.0px;line-height:9.0px;color:#333c48;font-weight:400;letter-spacing:-0.08px;-webkit-text-stroke:0.2px #333c48;left:1212.80px;">Outstanding Receivables</div><svg class="abs" style="left:0;top:0" width="1480" height="987"><circle cx="1319.2" cy="668.2" r="3.7" stroke="#9aa1a9" stroke-width="0.8" fill="none"/><path d="M1319.2,667.8000000000001 V670.2" stroke="#9aa1a9" stroke-width="0.9"/><circle cx="1319.2" cy="666.3000000000001" r="0.5" fill="#9aa1a9"/></svg><div class="b" style="left:1383.20px;top:663.50px;width:37.00px;height:11.80px;background:#fbe6ef;border-radius:6px;"></div><div class="t" style="top:666.18px;font-size:6.4px;line-height:6.4px;color:#c4455e;font-weight:400;left:1404.20px;transform:translateX(-50%);">&#9650; 100%</div><div class="t" style="top:690.32px;font-size:31.4px;line-height:31.4px;color:#1f2e3e;font-weight:400;letter-spacing:-0.3px;left:1212.40px;">$125.99</div>
<div class="b" style="left:486.00px;top:739.70px;width:944.60px;height:100.30px;background:#fff;box-shadow:0 1px 2px rgba(0,0,0,0.10),0 2px 5px rgba(0,0,0,0.05);"></div>
<div class="t" style="top:749.90px;font-size:11.7px;line-height:11.7px;color:#2f3947;font-weight:400;letter-spacing:-0.1px;-webkit-text-stroke:0.2px #2f3947;left:496.90px;">New vs Returning Customers</div>
<svg class="abs" style="left:0;top:0" width="1480" height="987"><circle cx="653.8" cy="756.2" r="3.7" stroke="#a9afb6" stroke-width="0.8" fill="none"/><path d="M653.8,755.8000000000001 V758.2" stroke="#a9afb6" stroke-width="0.9"/><circle cx="653.8" cy="754.3000000000001" r="0.5" fill="#a9afb6"/></svg>
<div class="b" style="left:505.50px;top:786.60px;width:10.20px;height:9.80px;background:#bbdc93;"></div>
<div class="b" style="left:505.50px;top:800.00px;width:10.20px;height:9.60px;background:#64a9e6;"></div>
<div class="t" style="top:787.60px;font-size:8.5px;line-height:8.5px;color:#4a525c;font-weight:400;left:521.00px;">New</div>
<div class="t" style="top:801.10px;font-size:8.5px;line-height:8.5px;color:#4a525c;font-weight:400;left:521.00px;">Returning</div>
<div class="b" style="left:569.70px;top:778.60px;width:664.60px;height:39.50px;background:#bcdd94;"></div>
<div class="b" style="left:1256.10px;top:750.00px;width:0.90px;height:90.00px;background:#ececec;"></div>
<div class="t" style="top:751.47px;font-size:8.9px;line-height:8.9px;color:#8a9199;font-weight:400;letter-spacing:-0.1px;left:1266.40px;">Average Spent</div>
<svg class="abs" style="left:0;top:0" width="1480" height="987"><circle cx="1331.5" cy="756.0" r="3.7" stroke="#9aa1a9" stroke-width="0.8" fill="none"/><path d="M1331.5,755.6 V758.0" stroke="#9aa1a9" stroke-width="0.9"/><circle cx="1331.5" cy="754.1" r="0.5" fill="#9aa1a9"/></svg>
<div class="t" style="top:767.03px;font-size:15.8px;line-height:15.8px;color:#27313e;font-weight:400;letter-spacing:-0.3px;-webkit-text-stroke:0.25px #27313e;left:1266.40px;">$8.46k</div>
<div class="b" style="left:1266.00px;top:792.90px;width:154.50px;height:0.90px;background:#ececec;"></div>
<div class="t" style="top:804.77px;font-size:8.9px;line-height:8.9px;color:#8a9199;font-weight:400;letter-spacing:0.05px;left:1266.40px;">Average Lifetime Value</div>
<svg class="abs" style="left:0;top:0" width="1480" height="987"><circle cx="1365.2" cy="809.3" r="3.7" stroke="#9aa1a9" stroke-width="0.8" fill="none"/><path d="M1365.2,808.9 V811.3" stroke="#9aa1a9" stroke-width="0.9"/><circle cx="1365.2" cy="807.4" r="0.5" fill="#9aa1a9"/></svg>
<div class="t" style="top:820.03px;font-size:15.8px;line-height:15.8px;color:#27313e;font-weight:400;letter-spacing:-0.3px;-webkit-text-stroke:0.25px #27313e;left:1266.40px;">$450.01k</div>
</div>
</body></html>
